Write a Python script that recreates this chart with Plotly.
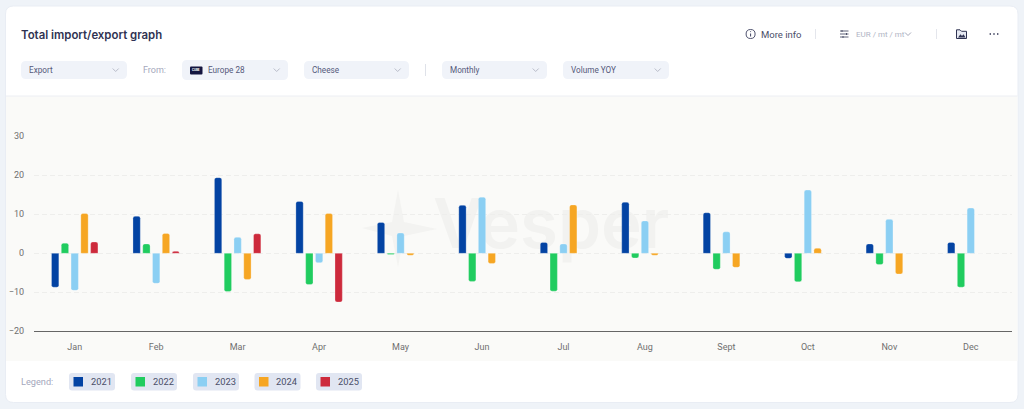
import plotly.graph_objects as go

W, H = 1024, 409
months = ["Jan", "Feb", "Mar", "Apr", "May", "Jun", "Jul", "Aug", "Sept", "Oct", "Nov", "Dec"]
y2021 = [-8.7, 9.5, 19.4, 13.3, 7.9, 12.3, 2.8, 13.1, 10.4, -1.3, 2.4, 2.8]
y2022 = [2.6, 2.4, -9.8, -8.0, -0.3, -7.2, -9.7, -1.2, -4.1, -7.3, -2.9, -8.7]
y2023 = [-9.5, -7.7, 4.1, -2.4, 5.2, 14.4, 2.4, 8.3, 5.5, 16.2, 8.7, 11.6]
y2024 = [10.2, 5.1, -6.7, 10.2, -0.5, -2.6, 12.4, -0.5, -3.6, 1.3, -5.3, 0]
y2025 = [2.9, 0.5, 5.0, -12.5, None, None, None, None, None, None, None, None]
years = ["2021", "2022", "2023", "2024", "2025"]
series = [y2021, y2022, y2023, y2024, y2025]
colors = ["#0343a3", "#20cc5f", "#8bcff3", "#f6a623", "#cd2a3c"]
y_ticks = [-20, -10, 0, 10, 20, 30]

FONT = "Roboto"
INK = "#3a3e5c"
MUTED = "#a4a8bc"


def px(x):
    return x / W


def py(y):
    return 1 - y / H


def rrect(x0, y0, x1, y1, r):
    return (f"M{x0+r},{y0} H{x1-r} Q{x1},{y0} {x1},{y0+r} V{y1-r} Q{x1},{y1} {x1-r},{y1} "
            f"H{x0+r} Q{x0},{y1} {x0},{y1-r} V{y0+r} Q{x0},{y0} {x0+r},{y0} Z")


# Page chrome lives on a hidden pixel-space subplot (x/y) drawn beneath the chart subplot (x2/y2).
shapes, notes = [], []


def shape(path, fill=None, line=None, lw=1, layer="below"):
    shapes.append(dict(type="path", path=path, xref="x", yref="y", layer=layer,
                       fillcolor=fill or "rgba(0,0,0,0)",
                       line=dict(color=line or "rgba(0,0,0,0)", width=lw if line else 0)))


def text(x, y, s, size=9, color=INK, anchor="left", weight=400, family=FONT):
    notes.append(dict(x=x, y=y, xref="x", yref="y", text=s, showarrow=False, xanchor=anchor,
                      yanchor="middle", xshift=-2 if anchor == "left" else 0,
                      font=dict(size=size, color=color, family=family, weight=weight)))


def chevron(cx, cy, color="#a9adbd"):
    shape(f"M{cx-3},{cy-1.5} L{cx},{cy+1.5} L{cx+3},{cy-1.5}", line=color, lw=0.8)


# card and chart panel
shape(rrect(5.5, 6, 1018, 402.5, 8), fill="#ffffff", line="#e9edf4", lw=1)
shape("M6,96 H1017.5 V361 H6 Z", fill="#fafaf8")
shape("M6,96 H1017.5", line="#eceef3", lw=1)

# watermark star
shape("M362,228 L392,222 L398,190 L404,222 L437,229 L404,236 L398,267 L392,236 Z", fill="#f3f3f1")

text(21, 34.5, "Total import/export graph", size=11.4, color="#2f3352", weight=600, family="Inter")

# dropdowns
for x0, x1, y0, y1, label, tx in [(21, 127, 61, 79, "Export", 29), (182, 288, 60, 80, "Europe 28", 207.7),
                                  (304, 409, 61, 79, "Cheese", 311.5), (442, 547, 61, 79, "Monthly", 449.5),
                                  (563, 669, 61, 79, "Volume YOY", 571)]:
    shape(rrect(x0, y0, x1, y1, 5), fill="#f0f3f9")
    text(tx, 70.3, label, size=8.2, color="#55597a")
    chevron(x1 - 11.3, 70)
text(142.7, 70.3, "From:", size=9, color=MUTED)
shape(rrect(190, 66.5, 202.5, 74.5, 1), fill="#13153f")
text(196.3, 70.2, "CUBE", size=3, color="#ffffff", anchor="center", weight=700)
shape("M425.5,64 V76", line="#dfe2e9", lw=1)

# header right
shape("M750.6,29.5 Q755.1,29.5 755.1,34 Q755.1,38.5 750.6,38.5 Q746.1,38.5 746.1,34 Q746.1,29.5 750.6,29.5 Z",
      line="#3d4160", lw=0.9)
shape("M750.6,33.5 V36.5 M750.6,31.3 V32.1", line="#3d4160", lw=1)
text(760.5, 34, "More info", size=9.5, color="#4a4e68")
shape("M815.5,29 V39", line="#e4e6ec", lw=1)
shape("M840,31 H848.5 M840,34 H848.5 M840,37 H848.5", line="#4d5169", lw=0.9)
shape("M842,30 V32 M846.5,33 V35 M843,36 V38", line="#4d5169", lw=1)
text(855.7, 34.5, "EUR / mt / mt", size=8, color="#b0b4c4")
chevron(908, 34, "#8d91a6")
shape("M936.5,29 V39", line="#e4e6ec", lw=1)
shape("M956.5,29.8 H960 L961.5,31.3 H966.5 V38.5 H956.5 Z", fill="#e6e9f2", line="#2f3352", lw=1)
shape("M958,37.5 L960.5,34.2 L962,36 L963.5,34.2 L965.5,37.5 Z", fill="#2f3352")
shape("M989.6,34 H991 M993.3,34 H994.7 M997,34 H998.4", line="#2f3352", lw=1.5)

# legend (chips)
text(21.3, 381.7, "Legend:", size=9.2, color=MUTED)
chip_x = [69, 131, 193, 254.5, 316]
for cx, name, col in zip(chip_x, years, colors):
    shape(rrect(cx, 373, cx + 46, 390.5, 3), fill="#e1e6f2")
    shape(f"M{cx+4.5},377 H{cx+14} V386.5 H{cx+4.5} Z", fill=col)
    text(cx + 21.7, 381.8, name, size=9.3, color="#4a4e68")

fig = go.Figure()
# watermark as real text, on the lower subplot so the bars stay above it
fig.add_trace(go.Scatter(x=[433], y=[231], xaxis="x", yaxis="y", mode="text", text=["Vesper"],
                         textposition="middle right", showlegend=False, hoverinfo="skip",
                         textfont=dict(size=69, color="#f2f2f0", family="Inter", weight=600)))
for name, vals, col in zip(years, series, colors):
    fig.add_trace(go.Bar(x=months, y=vals, name=name, showlegend=False, xaxis="x2", yaxis="y2",
                         marker=dict(color=col, cornerradius=2,
                                     line=dict(color="rgba(255,255,255,0.45)", width=0.6))))

axis_top = 136.3
axis_bot = 331.3
fig.update_layout(
    width=W, height=H, autosize=False, margin=dict(l=0, r=0, t=0, b=0, pad=0, autoexpand=False),
    paper_bgcolor="#eff3f8", plot_bgcolor="rgba(0,0,0,0)",
    barmode="group", bargap=0.4, bargroupgap=0.25,
    font=dict(family=FONT, size=9, color="#777777"),
    shapes=shapes, annotations=notes,
    xaxis=dict(domain=[0, 1], range=[0, W], anchor="y", visible=False, fixedrange=True, automargin=False),
    yaxis=dict(domain=[0, 1], range=[H, 0], anchor="x", visible=False, fixedrange=True, automargin=False),
    xaxis2=dict(domain=[px(34), px(1011.5)], anchor="y2", showgrid=False, zeroline=False,
                showline=True, linecolor="#666666", linewidth=1, ticks="",
                tickfont=dict(size=9, color="#6f6f6f"),
                ticklabelstandoff=7, fixedrange=True, automargin=False),
    yaxis2=dict(domain=[py(axis_bot), py(axis_top)], range=[-20, 30], tickvals=y_ticks, anchor="x2",
                showgrid=True, gridcolor="#eeeeec", griddash="5px,3px", gridwidth=1,
                zeroline=False, showline=False, ticks="", ticklabelstandoff=9,
                tickfont=dict(size=9, color="#6f6f6f"), fixedrange=True, automargin=False),
)

fig.write_html("out.html", config=dict(displayModeBar=False),
               post_script="document.body.style.margin='0';document.body.style.overflow='hidden';")
